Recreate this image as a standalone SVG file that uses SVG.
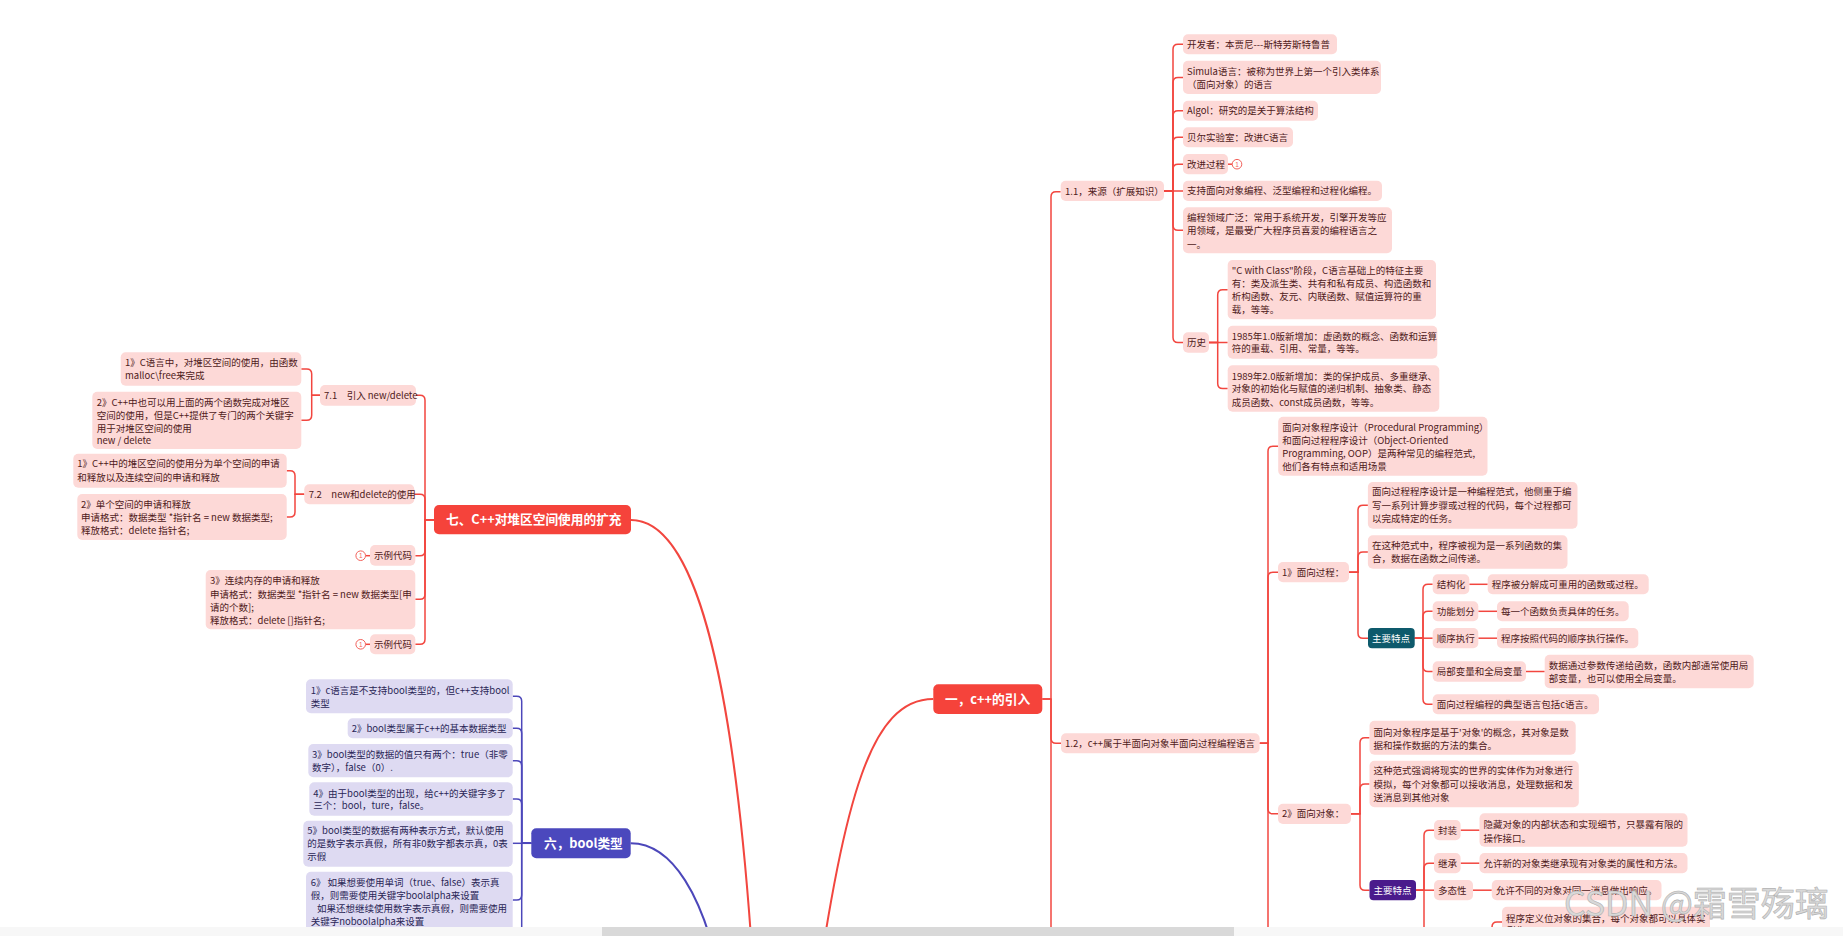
<svg xmlns="http://www.w3.org/2000/svg" width="1843" height="936" viewBox="0 0 1843 936">
<style>
.t{font-family:"Noto Sans CJK SC","Noto Sans",sans-serif;font-size:9.5px;fill:#4f1a1a}
.tb{font-family:"Noto Sans CJK SC","Noto Sans",sans-serif;font-size:9.5px;fill:#2a2656}
.tw{font-family:"Noto Sans CJK SC","Noto Sans",sans-serif;font-size:9.5px;fill:#ffffff}
.tt{font-family:"Noto Sans CJK SC","Noto Sans",sans-serif;font-size:12.7px;font-weight:bold;fill:#ffffff}
.pk{fill:#fdd9d7}
.lv{fill:#dedaf2}
.rd{fill:none;stroke:#f2463f;stroke-width:1.5}
.rm{fill:none;stroke:#f2463f;stroke-width:2}
.bl{fill:none;stroke:#4c47ba;stroke-width:1.5}
.bm{fill:none;stroke:#4c47ba;stroke-width:2}
.ic{fill:#fff;stroke:#f2615b;stroke-width:1}
.ict{font-family:"Liberation Sans",sans-serif;font-size:6.5px;fill:#f2615b;text-anchor:middle}
.wm{font-family:"Noto Sans CJK SC","Noto Sans",sans-serif;font-size:34px;fill:#d8d8d8;stroke:#b0b0b0;stroke-width:0.6}
</style>
<rect width="1843" height="936" fill="#ffffff"/>

<g id="connectors">
  <path class="rm" d="M933.3 699 C870 699 845 800 815 1000"/>
  <path class="rm" d="M631 520 C690 520 735 650 755 1000"/>
  <path class="bm" d="M630.7 843.3 C670 843.3 705 890 725 1000"/>
  <path class="rd" d="M1042.3 699 H1051 V196.7 Q1051 191.7 1056 191.7 H1060.7"/>
  <path class="rd" d="M1042.3 699 H1051 V738.3 Q1051 743.3 1056 743.3 H1061"/>
  <path class="rd" d="M1051 699 V936"/>
  <path class="rd" d="M1164 191 H1173 V49.3 Q1173 44.3 1178 44.3 H1183"/>
  <path class="rd" d="M1164 191 H1173 V82.4 Q1173 77.4 1178 77.4 H1183"/>
  <path class="rd" d="M1164 191 H1173 V115.7 Q1173 110.7 1178 110.7 H1183"/>
  <path class="rd" d="M1164 191 H1173 V142.3 Q1173 137.3 1178 137.3 H1183"/>
  <path class="rd" d="M1164 191 H1173 V169.2 Q1173 164.2 1178 164.2 H1183"/>
  <path class="rd" d="M1164 191 H1183"/>
  <path class="rd" d="M1164 191 H1173 V225.3 Q1173 230.3 1178 230.3 H1183"/>
  <path class="rd" d="M1164 191 H1173 V337.5 Q1173 342.5 1178 342.5 H1183"/>
  <path class="rd" d="M1228 164.2 H1232"/>
  <path class="rd" d="M1209 342.5 H1217.7 V294.7 Q1217.7 289.7 1222.7 289.7 H1227.7"/>
  <path class="rd" d="M1209 342.5 H1227.7"/>
  <path class="rd" d="M1209 342.5 H1217.7 V383.5 Q1217.7 388.5 1222.7 388.5 H1227.7"/>
  <path class="rd" d="M1259.6 743.3 H1268 V451.2 Q1268 446.2 1273 446.2 H1278.2"/>
  <path class="rd" d="M1259.6 743.3 H1268 V577.2 Q1268 572.2 1273 572.2 H1278"/>
  <path class="rd" d="M1259.6 743.3 H1268 V808.8 Q1268 813.8 1273 813.8 H1278"/>
  <path class="rd" d="M1268 743.3 V936"/>
  <path class="rd" d="M1349 572.2 H1358 V510.3 Q1358 505.3 1363 505.3 H1367.9"/>
  <path class="rd" d="M1349 572.2 H1358 V557 Q1358 552 1363 552 H1367.9"/>
  <path class="rd" d="M1349 572.2 H1358 V633.2 Q1358 638.2 1363 638.2 H1368"/>
  <path class="rd" d="M1414.7 638.2 H1423 V589.3 Q1423 584.3 1428 584.3 H1432.7"/>
  <path class="rd" d="M1414.7 638.2 H1423 V616.3 Q1423 611.3 1428 611.3 H1432.7"/>
  <path class="rd" d="M1414.7 638.2 H1432.7"/>
  <path class="rd" d="M1414.7 638.2 H1423 V666.5 Q1423 671.5 1428 671.5 H1432.7"/>
  <path class="rd" d="M1414.7 638.2 H1423 V699.3 Q1423 704.3 1428 704.3 H1432.7"/>
  <path class="rd" d="M1469.3 584.3 H1487.7"/>
  <path class="rd" d="M1478.3 611.3 H1497"/>
  <path class="rd" d="M1478.3 638.2 H1497"/>
  <path class="rd" d="M1526 671.5 H1544.7"/>
  <path class="rd" d="M1351 813.8 H1360 V742.7 Q1360 737.7 1365 737.7 H1369.5"/>
  <path class="rd" d="M1351 813.8 H1360 V789 Q1360 784 1365 784 H1369.5"/>
  <path class="rd" d="M1351 813.8 H1360 V885.2 Q1360 890.2 1365 890.2 H1369.5"/>
  <path class="rd" d="M1416 890.2 H1424 V835.2 Q1424 830.2 1429 830.2 H1434"/>
  <path class="rd" d="M1416 890.2 H1424 V868.2 Q1424 863.2 1429 863.2 H1434"/>
  <path class="rd" d="M1416 890.2 H1434"/>
  <path class="rd" d="M1424 890.2 V936"/>
  <path class="rd" d="M1460.6 830.2 H1479.5"/>
  <path class="rd" d="M1460.6 863.2 H1479.5"/>
  <path class="rd" d="M1473 890.2 H1491.8"/>
  <path class="rd" d="M1502 922 H1497 Q1492 922 1492 927 V936"/>
  <path class="rd" d="M434 519.7 H425 V400.3 Q425 395.3 420 395.3 H416"/>
  <path class="rd" d="M434 519.7 H425 V499.3 Q425 494.3 420 494.3 H414.3"/>
  <path class="rd" d="M434 519.7 H425 V550.7 Q425 555.7 420 555.7 H415.3"/>
  <path class="rd" d="M434 519.7 H425 V594.3 Q425 599.3 420 599.3 H415.3"/>
  <path class="rd" d="M434 519.7 H425 V639.3 Q425 644.3 420 644.3 H415.3"/>
  <path class="rd" d="M365.7 555.7 H370"/>
  <path class="rd" d="M365.7 644.3 H370"/>
  <path class="rd" d="M320 395.3 H311.7 V374 Q311.7 369 306.7 369 H301.3"/>
  <path class="rd" d="M320 395.3 H311.7 V415.3 Q311.7 420.3 306.7 420.3 H301.3"/>
  <path class="rd" d="M304.3 494.3 H295 V475.7 Q295 470.7 290 470.7 H286.7"/>
  <path class="rd" d="M304.3 494.3 H295 V512 Q295 517 290 517 H286.7"/>
  <path class="bl" d="M531.3 843.3 H521.7 V701.3 Q521.7 696.3 516.7 696.3 H512.7"/>
  <path class="bl" d="M531.3 843.3 H521.7 V733.3 Q521.7 728.3 516.7 728.3 H512.7"/>
  <path class="bl" d="M531.3 843.3 H521.7 V765.7 Q521.7 760.7 516.7 760.7 H512.7"/>
  <path class="bl" d="M531.3 843.3 H521.7 V804 Q521.7 799 516.7 799 H512.7"/>
  <path class="bl" d="M531.3 843.3 H512.7"/>
  <path class="bl" d="M531.3 843.3 H521.7 V895 Q521.7 900 516.7 900 H512.7"/>
  <path class="bl" d="M521.7 843.3 V936"/>
</g>

<g id="node-yi">
  <rect x="933.3" y="684.3" width="109" height="29.7" rx="5" fill="#f5433b"/>
  <text class="tt" x="945" y="703.7">一，c++的引入</text>
</g>
<g id="node-qi">
  <rect x="434" y="505" width="197" height="29.3" rx="5" fill="#f5433b"/>
  <text class="tt" x="446" y="524.4">七、C++对堆区空间使用的扩充</text>
</g>
<g id="node-liu">
  <rect x="531.3" y="828.3" width="99.4" height="30" rx="5" fill="#4b48bd"/>
  <text class="tt" x="544" y="848">六，bool类型</text>
</g>

<g id="node-1-1"><rect class="pk" x="1060.7" y="180.7" width="103.3" height="20.3" rx="5"/><text class="t" x="1065" y="194.5">1.1，来源（扩展知识）</text></g>
<g id="n1"><rect class="pk" x="1183" y="34.3" width="154" height="20" rx="5"/><text class="t" x="1187" y="47.7">开发者：本贾尼---斯特劳斯特鲁普</text></g>
<g id="n2"><rect class="pk" x="1183" y="60.7" width="198" height="33.3" rx="5"/><text class="t"><tspan x="1187" y="75.1">Simula语言：被称为世界上第一个引入类体系</tspan><tspan x="1187" y="87.7">（面向对象）的语言</tspan></text></g>
<g id="n3"><rect class="pk" x="1183" y="100.7" width="135" height="20" rx="5"/><text class="t" x="1187" y="114.1">Algol：研究的是关于算法结构</text></g>
<g id="n4"><rect class="pk" x="1183" y="127.3" width="110" height="20" rx="5"/><text class="t" x="1187" y="140.7">贝尔实验室：改进C语言</text></g>
<g id="n5"><rect class="pk" x="1183" y="154" width="45" height="20.3" rx="5"/><text class="t" x="1187" y="167.6">改进过程</text><circle class="ic" cx="1237" cy="164.2" r="4.8"/><text class="ict" x="1237" y="166.6">1</text></g>
<g id="n6"><rect class="pk" x="1183" y="180.7" width="199" height="20.3" rx="5"/><text class="t" x="1187" y="194.3">支持面向对象编程、泛型编程和过程化编程。</text></g>
<g id="n7"><rect class="pk" x="1183" y="207.3" width="209" height="46" rx="5"/><text class="t"><tspan x="1187" y="221.1">编程领域广泛：常用于系统开发，引擎开发等应</tspan><tspan x="1187" y="234.4">用领域，是最受广大程序员喜爱的编程语言之</tspan><tspan x="1187" y="247.7">一。</tspan></text></g>
<g id="n8"><rect class="pk" x="1183" y="332.3" width="26" height="20.4" rx="5"/><text class="t" x="1187" y="345.9">历史</text></g>
<g id="h1"><rect class="pk" x="1227.7" y="260" width="208.3" height="59.3" rx="5"/><text class="t"><tspan x="1231.7" y="274.4">"C with Class"阶段，C语言基础上的特征主要</tspan><tspan x="1231.7" y="287.1">有：类及派生类、共有和私有成员、构造函数和</tspan><tspan x="1231.7" y="300.1">析构函数、友元、内联函数、赋值运算符的重</tspan><tspan x="1231.7" y="312.7">载，等等。</tspan></text></g>
<g id="h2"><rect class="pk" x="1227.7" y="325.7" width="209.6" height="33" rx="5"/><text class="t"><tspan x="1231.7" y="340.1">1985年1.0版新增加：虚函数的概念、函数和运算</tspan><tspan x="1231.7" y="352.4">符的重载、引用、常量，等等。</tspan></text></g>
<g id="h3"><rect class="pk" x="1227.7" y="365.3" width="211.6" height="46.4" rx="5"/><text class="t"><tspan x="1231.7" y="379.7">1989年2.0版新增加：类的保护成员、多重继承、</tspan><tspan x="1231.7" y="392.4">对象的初始化与赋值的递归机制、抽象类、静态</tspan><tspan x="1231.7" y="405.7">成员函数、const成员函数，等等。</tspan></text></g>

<g id="node-1-2"><rect class="pk" x="1061" y="733.3" width="198.6" height="20" rx="5"/><text class="t" x="1065" y="746.7">1.2，c++属于半面向对象半面向过程编程语言</text></g>
<g id="a1"><rect class="pk" x="1278.2" y="416.7" width="209.3" height="59" rx="5"/><text class="t"><tspan x="1282.2" y="431.1">面向对象程序设计（Procedural Programming）</tspan><tspan x="1282.2" y="444.1">和面向过程程序设计（Object-Oriented</tspan><tspan x="1282.2" y="457.1">Programming, OOP）是两种常见的编程范式,</tspan><tspan x="1282.2" y="470.1">他们各有特点和适用场景</tspan></text></g>
<g id="a2"><rect class="pk" x="1278" y="562" width="71" height="20.3" rx="5"/><text class="t" x="1282" y="575.6">1》面向过程：</text></g>
<g id="b1"><rect class="pk" x="1367.9" y="482" width="209.6" height="46.7" rx="5"/><text class="t"><tspan x="1371.9" y="495.4">面向过程程序设计是一种编程范式，他侧重于编</tspan><tspan x="1371.9" y="509.1">写一系列计算步骤或过程的代码，每个过程都可</tspan><tspan x="1371.9" y="522.4">以完成特定的任务。</tspan></text></g>
<g id="b2"><rect class="pk" x="1367.9" y="535.3" width="199.6" height="33.4" rx="5"/><text class="t"><tspan x="1371.9" y="549.1">在这种范式中，程序被视为是一系列函数的集</tspan><tspan x="1371.9" y="562.4">合，数据在函数之间传递。</tspan></text></g>
<g id="b3"><rect x="1368" y="628" width="46.7" height="20.3" rx="4" fill="#0e5a6c"/><text class="tw" x="1372" y="641.6">主要特点</text></g>
<g id="c1"><rect class="pk" x="1432.7" y="574.3" width="36.6" height="20" rx="5"/><text class="t" x="1436.7" y="587.7">结构化</text></g>
<g id="c1a"><rect class="pk" x="1487.7" y="574.3" width="161" height="20" rx="5"/><text class="t" x="1491.7" y="587.7">程序被分解成可重用的函数或过程。</text></g>
<g id="c2"><rect class="pk" x="1432.7" y="601.3" width="45.6" height="20" rx="5"/><text class="t" x="1436.7" y="614.7">功能划分</text></g>
<g id="c2a"><rect class="pk" x="1497" y="601.3" width="131.7" height="20" rx="5"/><text class="t" x="1501" y="614.7">每一个函数负责具体的任务。</text></g>
<g id="c3"><rect class="pk" x="1432.7" y="628" width="45.6" height="20.3" rx="5"/><text class="t" x="1436.7" y="641.6">顺序执行</text></g>
<g id="c3a"><rect class="pk" x="1497" y="628" width="141.3" height="20.3" rx="5"/><text class="t" x="1501" y="641.6">程序按照代码的顺序执行操作。</text></g>
<g id="c4"><rect class="pk" x="1432.7" y="661.3" width="93.3" height="20.4" rx="5"/><text class="t" x="1436.7" y="674.9">局部变量和全局变量</text></g>
<g id="c4a"><rect class="pk" x="1544.7" y="654.7" width="209" height="33.6" rx="5"/><text class="t"><tspan x="1548.7" y="669.4">数据通过参数传递给函数，函数内部通常使用局</tspan><tspan x="1548.7" y="682.4">部变量，也可以使用全局变量。</tspan></text></g>
<g id="c5"><rect class="pk" x="1432.7" y="694.3" width="166.3" height="20" rx="5"/><text class="t" x="1436.7" y="707.7">面向过程编程的典型语言包括c语言。</text></g>
<g id="a3"><rect class="pk" x="1278" y="803.7" width="73" height="20.3" rx="5"/><text class="t" x="1282" y="817.2">2》面向对象：</text></g>
<g id="d1"><rect class="pk" x="1369.5" y="720.7" width="206.2" height="34" rx="5"/><text class="t"><tspan x="1373.5" y="735.7">面向对象程序是基于'对象'的概念，其对象是数</tspan><tspan x="1373.5" y="749.1">据和操作数据的方法的集合。</tspan></text></g>
<g id="d2"><rect class="pk" x="1369.5" y="760.7" width="209.3" height="46.6" rx="5"/><text class="t"><tspan x="1373.5" y="774.4">这种范式强调将现实的世界的实体作为对象进行</tspan><tspan x="1373.5" y="787.7">模拟，每个对象都可以接收消息，处理数据和发</tspan><tspan x="1373.5" y="801.1">送消息到其他对象</tspan></text></g>
<g id="d3"><rect x="1369.5" y="880" width="46.5" height="20.3" rx="4" fill="#4a1b8c"/><text class="tw" x="1373.5" y="893.6">主要特点</text></g>
<g id="e1"><rect class="pk" x="1434" y="820" width="26.6" height="20.3" rx="5"/><text class="t" x="1438" y="833.6">封装</text></g>
<g id="e1a"><rect class="pk" x="1479.5" y="813.3" width="208" height="33.4" rx="5"/><text class="t"><tspan x="1483.5" y="828.4">隐藏对象的内部状态和实现细节，只暴露有限的</tspan><tspan x="1483.5" y="841.7">操作接口。</tspan></text></g>
<g id="e2"><rect class="pk" x="1434" y="853" width="26.6" height="20.3" rx="5"/><text class="t" x="1438" y="866.6">继承</text></g>
<g id="e2a"><rect class="pk" x="1479.5" y="853" width="208" height="20.3" rx="5"/><text class="t" x="1483.5" y="866.6">允许新的对象类继承现有对象类的属性和方法。</text></g>
<g id="e3"><rect class="pk" x="1434" y="880" width="39" height="20.3" rx="5"/><text class="t" x="1438" y="893.6">多态性</text></g>
<g id="e3a"><rect class="pk" x="1491.8" y="880" width="169.7" height="20.3" rx="5"/><text class="t" x="1495.8" y="893.6">允许不同的对象对同一消息做出响应。</text></g>
<g id="f1"><rect class="pk" x="1502" y="906.7" width="208" height="40" rx="5"/><text class="t"><tspan x="1506" y="921.7">程序定义位对象的集合，每个对象都可以具体实</tspan><tspan x="1506" y="934.4">例化</tspan></text></g>

<g id="s71"><rect class="pk" x="320" y="385" width="96" height="20.7" rx="5"/><text class="t" x="324" y="398.7">7.1　引入 new/delete</text></g>
<g id="s71a"><rect class="pk" x="120.7" y="352.3" width="180.6" height="33.4" rx="5"/><text class="t"><tspan x="125" y="366.1">1》C语言中，对堆区空间的使用，由函数</tspan><tspan x="125" y="379.4">malloc\free来完成</tspan></text></g>
<g id="s71b"><rect class="pk" x="92.3" y="391.7" width="209" height="57.3" rx="5"/><text class="t"><tspan x="96.7" y="405.7">2》C++中也可以用上面的两个函数完成对堆区</tspan><tspan x="96.7" y="419.1">空间的使用，但是C++提供了专门的两个关键字</tspan><tspan x="96.7" y="431.7">用于对堆区空间的使用</tspan><tspan x="96.7" y="444.4">new / delete</tspan></text></g>
<g id="s72"><rect class="pk" x="304.3" y="484.3" width="110" height="20" rx="5"/><text class="t" x="308.7" y="497.7">7.2　new和delete的使用</text></g>
<g id="s72a"><rect class="pk" x="73.3" y="453.7" width="213.4" height="34" rx="5"/><text class="t"><tspan x="77.3" y="467.4">1》C++中的堆区空间的使用分为单个空间的申请</tspan><tspan x="77.3" y="480.7">和释放以及连续空间的申请和释放</tspan></text></g>
<g id="s72b"><rect class="pk" x="77.3" y="494" width="209.4" height="46" rx="5"/><text class="t"><tspan x="81" y="507.7">2》单个空间的申请和释放</tspan><tspan x="81" y="521.1">申请格式：数据类型  *指针名 = new 数据类型;</tspan><tspan x="81" y="533.7">释放格式：delete 指针名;</tspan></text></g>
<g id="sdm1"><rect class="pk" x="370" y="545" width="45.3" height="20.7" rx="5"/><text class="t" x="374" y="559">示例代码</text><circle class="ic" cx="360.7" cy="555.7" r="4.8"/><text class="ict" x="360.7" y="558.1">1</text></g>
<g id="s73"><rect class="pk" x="205.7" y="570" width="209.6" height="59.3" rx="5"/><text class="t"><tspan x="210" y="584.1">3》连续内存的申请和释放</tspan><tspan x="210" y="598.4">申请格式：数据类型 *指针名 = new 数据类型[申</tspan><tspan x="210" y="611.1">请的个数];</tspan><tspan x="210" y="623.7">释放格式：delete  []指针名;</tspan></text></g>
<g id="sdm2"><rect class="pk" x="370" y="634.3" width="45.3" height="20" rx="5"/><text class="t" x="374" y="647.7">示例代码</text><circle class="ic" cx="360.7" cy="644.3" r="4.8"/><text class="ict" x="360.7" y="646.7">1</text></g>

<g id="g1"><rect class="lv" x="306" y="679.3" width="206.7" height="34" rx="5"/><text class="tb"><tspan x="310.7" y="694.1">1》c语言是不支持bool类型的，但c++支持bool</tspan><tspan x="310.7" y="706.7">类型</tspan></text></g>
<g id="g2"><rect class="lv" x="347.7" y="718.3" width="165" height="20" rx="5"/><text class="tb" x="351.7" y="731.7">2》bool类型属于c++的基本数据类型</text></g>
<g id="g3"><rect class="lv" x="308.3" y="744" width="204.4" height="33.3" rx="5"/><text class="tb"><tspan x="312" y="758.4">3》bool类型的数据的值只有两个：true（非零</tspan><tspan x="312" y="771.4">数字），false（0）.</tspan></text></g>
<g id="g4"><rect class="lv" x="309.3" y="782.3" width="203.4" height="33.4" rx="5"/><text class="tb"><tspan x="313.3" y="796.7">4》由于bool类型的出现，给c++的关键字多了</tspan><tspan x="313.3" y="809.4">三个：bool，ture，false。</tspan></text></g>
<g id="g5"><rect class="lv" x="303.3" y="820.7" width="209.4" height="46" rx="5"/><text class="tb"><tspan x="307.3" y="834.4">5》bool类型的数据有两种表示方式，默认使用</tspan><tspan x="307.3" y="847.4">的是数字表示真假，所有非0数字都表示真，0表</tspan><tspan x="307.3" y="860.1">示假</tspan></text></g>
<g id="g6"><rect class="lv" x="306" y="871.7" width="206.7" height="70" rx="5"/><text class="tb"><tspan x="310.7" y="885.7">6》 如果想要使用单词（true、false）表示真</tspan><tspan x="310.7" y="899.1">假，则需要使用关键字boolalpha来设置</tspan><tspan x="317" y="911.7">如果还想继续使用数字表示真假，则需要使用</tspan><tspan x="310.7" y="925.1">关键字noboolalpha来设置</tspan></text></g>

<text class="wm" x="1564" y="916">CSDN @霜雪殇璃</text>

<g id="scrollbar">
  <rect x="0" y="927" width="1843" height="9" fill="#f7f7f7"/>
  <rect x="602" y="927" width="632" height="9" fill="#d9d9d9"/>
</g>
</svg>
